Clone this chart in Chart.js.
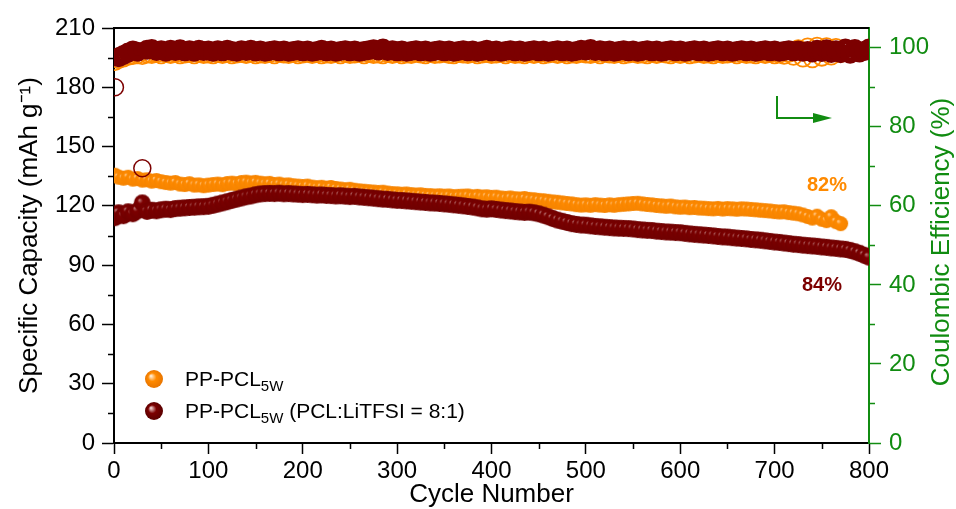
<!DOCTYPE html>
<html><head><meta charset="utf-8">
<script src="https://cdn.jsdelivr.net/npm/chart.js@4.4.1/dist/chart.umd.min.js"></script>
<style>html,body{margin:0;padding:0;background:#fff}#wrap{width:956px;height:509px;position:relative}</style>
</head><body><div id="wrap"><canvas id="c" width="956" height="509"></canvas></div>
<script>
// ---------------- data ----------------
const cycles = [
1,5,10,15,20,25,30,35,40,45, 50,55,60,65,70,75,80,85,90,95,
100,105,110,115,120,125,130,135,140,145, 150,155,160,165,170,175,180,185,190,195,
200,205,210,215,220,225,230,235,240,245, 250,255,260,265,270,275,280,285,290,295,
300,305,310,315,320,325,330,335,340,345, 350,355,360,365,370,375,380,385,390,395,
400,405,410,415,420,425,430,435,440,445, 450,455,460,465,470,475,480,485,490,495,
500,505,510,515,520,525,530,535,540,545, 550,555,560,565,570,575,580,585,590,595,
600,605,610,615,620,625,630,635,640,645, 650,655,660,665,670,675,680,685,690,695,
700,705,710,715,720,725,730,735,740,745, 750,755,760,765,770,775,780,785,790,795,
800];
// PP-PCL5W specific capacity (mAh/g), cycles 1..770
const capPCL = [
135.5,134.5,134,134.5,133.5,133.8,133,133.2,132.5,132.8,
132.2,131.8,131.5,131.8,131,130.8,131.2,130.5,130.6,130.2,
130.5,130.8,131,130.7,131.3,131.5,131.2,131.8,132,131.6,
131.9,131.5,131.2,131.4,130.8,131,130.5,130.6,130.2,130,
129.8,130,129.5,129.2,129.4,129,129.3,128.8,128.5,128.2,
128.4,127.9,127.6,127.4,127.2,127,126.8,126.9,126.5,126.2,
126.1,125.9,126,125.7,125.5,125.6,125.3,125.2,125,125.1,
124.9,125,124.7,124.8,124.9,125,124.6,124.8,124.5,124.6,
124.3,124.4,124,123.8,124,123.6,123.5,123.7,123.3,123.1,
122.8,122.6,122.3,122,121.8,121.5,121.2,121,120.6,120.4,
120.5,120.3,120.6,120.4,120.2,120.5,120.3,120.6,120.8,121,
121.2,121.3,121,120.7,120.5,120.2,120,119.8,119.9,119.5,
119.3,119.4,119.1,119.2,118.9,118.8,118.6,118.5,118.7,118.4,
118.6,118.5,118.3,118.5,118.4,118.2,118,117.8,117.6,117.4,
117.1,116.9,117,116.6,116.3,116,115.4,114.6,113.8,114.8,
113.2,112.5,114.5,112,111];
// PP-PCL5W (PCL:LiTFSI = 8:1) specific capacity, cycles 1..800
const capLiTFSI = [
114,116.5,115,117,116,117.5,121.5,117.2,117.8,117.5,
118,118.3,118.1,118.6,118.8,119,119.2,119.3,119.5,119.6,
119.8,120.3,120.9,121.5,122.1,122.8,123.4,124,124.6,125,
125.6,126,126.2,126.3,126.2,126.4,126.1,126.2,126,125.9,
125.7,125.8,125.6,125.4,125.5,125.3,125.2,125,125.1,124.9,
124.7,124.8,124.5,124.3,124.1,123.9,123.6,123.4,123.3,123,
122.8,122.7,122.5,122.3,122.1,121.9,121.7,121.5,121.4,121.2,
121,120.8,120.5,120.3,120,119.7,119.4,119,118.5,118.3,
118.5,118.2,117.9,117.6,117.4,117.1,116.9,116.7,116.8,116.5,
116,115.3,114.5,113.6,112.8,112.2,111.6,111,110.6,110.3,
110.2,109.9,109.6,109.4,109.2,109,108.8,108.7,108.6,108.5,
108.3,108,107.8,107.6,107.5,107.2,107,106.8,106.7,106.5,
106.4,106.1,105.8,105.6,105.4,105.2,105,104.8,104.5,104.3,
104.2,103.9,103.7,103.5,103.3,103,102.8,102.6,102.3,102,
101.7,101.5,101.2,100.9,100.6,100.4,100.1,99.9,99.7,99.5,
99.2,99,98.7,98.5,98.2,98,97.5,96.8,96,95,
94];
// Coulombic efficiency (%) PP-PCL5W, cycles 1..770
const cePCL = [
96.5,97,97.4,97.8,98,98.2,98,98.4,98.3,98.5,
98.2,98.5,98.3,98.6,98.2,98.4,98.5,98.2,98.6,98.3,
98.4,98.2,98.5,98.3,98.6,98.2,98.4,98.5,98.3,98.6,
98.2,98.4,98.3,98.5,98.2,98.6,98.4,98.3,98.5,98.2,
98.4,98.6,98.3,98.5,98.2,98.4,98.3,98.6,98.2,98.5,
98.3,98.4,98.6,98.2,98.5,98.3,98.4,98.2,98.6,98.3,
98.5,98.2,98.4,98.3,98.6,98.4,98.2,98.5,98.3,98.4,
98.6,98.3,98.2,98.5,98.4,98.3,98.6,98.2,98.4,98.5,
98.3,98.4,98.6,98.2,98.5,98.3,98.4,98.2,98.6,98.3,
98.5,98.2,98.4,98.6,98.3,98.5,98.2,98.4,98.3,98.6,
98.4,98.3,98.5,98.2,98.6,98.4,98.3,98.5,98.2,98.4,
98.6,98.3,98.4,98.2,98.5,98.3,98.6,98.4,98.2,98.5,
98.3,98.5,98.2,98.4,98.6,98.3,98.4,98.2,98.5,98.3,
98.4,98.6,98.2,98.5,98.3,98.4,98.2,98.6,98.3,98.5,
98.2,98.4,98.1,98.6,97.8,99.8,97.4,100.2,97.2,100.4,
97.6,100.3,97.9,100.1,98.5];
// Coulombic efficiency (%) PP-PCL5W (PCL:LiTFSI = 8:1), cycles 1..800
const ceLiTFSI = [
90,97.6,98.2,98.8,99.3,99,69.5,99.5,99.7,99.2,
99.4,99,99.5,99.2,99.6,99.1,99.4,99,99.5,99.2,
99.3,99,99.4,99.1,99.5,99.2,99,99.4,99.2,99.5,
99.1,99.3,99,99.2,99.4,99.1,99.3,99,99.2,99.4,
99.1,99.3,99,99.2,99.5,99.1,99.3,99,99.2,99.4,
99.1,99.3,99,99.2,99.4,99.6,99.3,99.8,99.2,99.4,
99.1,99.3,99,99.2,99.4,99.1,99.3,99,99.2,99.4,
99.1,99.3,99,99.2,99.4,99.1,99.3,99,99.2,99.5,
99.1,99.3,99,99.2,99.4,99.1,99.3,99,99.2,99.4,
99.1,99.3,99,99.2,99.4,99.1,99.3,99,99.2,99.5,
99.3,99.7,99.2,99.4,99.1,99.3,99,99.2,99.4,99.1,
99.3,99,99.2,99.4,99.1,99.3,99,99.2,99.4,99.1,
99.3,99,99.2,99.4,99.1,99.3,99,99.2,99.4,99.1,
99.3,99,99.2,99.4,99.1,99.3,99,99.2,99.4,99.1,
99.3,99,99.2,99.4,99.1,99.3,99,99.2,98.8,99.5,
98.9,99.6,98.7,99.4,98.6,99.8,98.5,99.7,98.8,99.2,
99.8];
const xTicks = [0,100,200,300,400,500,600,700,800];
const xMinor = [50,150,250,350,450,550,650,750];
const capTicks = [0,30,60,90,120,150,180,210];
const capMinor = [15,45,75,105,135,165,195];
const ceTicks = [0,20,40,60,80,100];
const ceMinor = [10,30,50,70,90];
const seriesNames = ['PP-PCL', 'PP-PCL'];
const seriesSub = ['5W', '5W'];
const seriesTail = ['', ' (PCL:LiTFSI = 8:1)'];
const retentionLabels = ['82%', '84%'];

// ---------------- styling ----------------
const F = "'Liberation Sans', Arial, sans-serif";
const ORANGE = '#ff8a00';
const DARKRED = '#7c0000';
const GREEN = '#118c11';

function sphere(r, base, light, dark, hl) {
  const s = Math.ceil(2 * r + 2);
  const c = document.createElement('canvas');
  c.width = s; c.height = s;
  const g = c.getContext('2d');
  const cx = s / 2, cy = s / 2;
  const grad = g.createRadialGradient(cx - r * 0.35, cy - r * 0.35, r * 0.02, cx, cy, r);
  grad.addColorStop(0, light);
  grad.addColorStop(hl, base);
  grad.addColorStop(1, dark);
  g.fillStyle = grad;
  g.beginPath(); g.arc(cx, cy, r, 0, Math.PI * 2); g.fill();
  return c;
}
const sphOrange = sphere(7.5, ORANGE, '#ffcf98', '#f58400', 0.3);
const sphRed = sphere(8.5, DARKRED, '#c08080', '#700000', 0.3);
const sphOrangeL = sphere(9, ORANGE, '#fff4e6', '#e87500', 0.45);
const sphRedL = sphere(9, DARKRED, '#f6dede', '#5a0000', 0.45);

const pts = (ys) => ys.map((v, i) => ({x: cycles[i], y: v}));
// isolated CE outliers are drawn as thin open rings; the dense run forms a thick band
const ringWidth = (thick) => (c) => (c.raw && c.raw.y < 95 ? 1.5 : thick);
const ringRadius = (r) => (c) => (c.raw && c.raw.y < 95 ? 8.5 : r);

const overlay = {
  id: 'overlay',
  afterDraw(chart) {
    const ctx = chart.ctx;
    const a = chart.chartArea;
    const sx = chart.scales.x, sy = chart.scales.y, sy1 = chart.scales.y1;
    ctx.save();
    // top frame
    ctx.strokeStyle = '#000'; ctx.lineWidth = 2;
    ctx.beginPath(); ctx.moveTo(a.left - 1, a.top); ctx.lineTo(a.right, a.top); ctx.stroke();
    // minor ticks
    ctx.lineWidth = 1.5;
    ctx.beginPath();
    xMinor.forEach(v => { const p = Math.round(sx.getPixelForValue(v)) + 0.5; ctx.moveTo(p, a.bottom); ctx.lineTo(p, a.bottom + 6); });
    capMinor.forEach(v => { const p = Math.round(sy.getPixelForValue(v)) + 0.5; ctx.moveTo(a.left - 6, p); ctx.lineTo(a.left, p); });
    ctx.stroke();
    ctx.strokeStyle = GREEN;
    ctx.beginPath();
    ceMinor.forEach(v => { const p = Math.round(sy1.getPixelForValue(v)) + 0.5; ctx.moveTo(a.right, p); ctx.lineTo(a.right + 6, p); });
    ctx.stroke();
    // right axis title
    ctx.fillStyle = GREEN;
    ctx.font = '26px ' + F;
    ctx.textAlign = 'center'; ctx.textBaseline = 'middle';
    ctx.translate(942, 242); ctx.rotate(-Math.PI / 2);
    ctx.fillText('Coulombic Efficiency (%)', 0, 0);
    ctx.restore();

    ctx.save();
    // arrow pointing to right axis
    ctx.strokeStyle = GREEN; ctx.fillStyle = GREEN; ctx.lineWidth = 2;
    ctx.beginPath(); ctx.moveTo(777, 96); ctx.lineTo(777, 118); ctx.lineTo(815, 118); ctx.stroke();
    ctx.beginPath(); ctx.moveTo(813, 113); ctx.lineTo(832, 118); ctx.lineTo(813, 123); ctx.closePath(); ctx.fill();
    // retention labels
    ctx.font = 'bold 20px ' + F;
    ctx.textAlign = 'center'; ctx.textBaseline = 'middle';
    ctx.fillStyle = ORANGE; ctx.fillText(retentionLabels[0], 827, 185);
    ctx.fillStyle = DARKRED; ctx.fillText(retentionLabels[1], 822, 285);
    // legend
    const rows = [{img: sphOrangeL, y: 379}, {img: sphRedL, y: 411}];
    ctx.textAlign = 'left'; ctx.textBaseline = 'alphabetic'; ctx.fillStyle = '#000';
    rows.forEach((r, i) => {
      ctx.drawImage(r.img, 154 - r.img.width / 2, r.y - r.img.height / 2);
      let x = 185;
      const base = r.y + 7;
      ctx.font = '21px ' + F;
      ctx.fillText(seriesNames[i], x, base);
      x += ctx.measureText(seriesNames[i]).width;
      ctx.font = '15px ' + F;
      ctx.fillText(seriesSub[i], x, base + 5);
      x += ctx.measureText(seriesSub[i]).width;
      ctx.font = '21px ' + F;
      ctx.fillText(seriesTail[i], x, base);
    });
    ctx.restore();
  }
};

new Chart(document.getElementById('c'), {
  type: 'scatter',
  data: {
    datasets: [
      {label: 'CE PP-PCL5W (PCL:LiTFSI = 8:1)', data: pts(ceLiTFSI), yAxisID: 'y1', clip: 0,
        pointStyle: 'circle', pointRadius: ringRadius(7), pointBackgroundColor: 'rgba(0,0,0,0)',
        pointBorderColor: DARKRED, pointBorderWidth: ringWidth(6)},
      {label: 'PP-PCL5W (PCL:LiTFSI = 8:1)', data: pts(capLiTFSI), yAxisID: 'y', clip: 0,
        pointStyle: sphRed, pointRadius: 8.5},
      {label: 'CE PP-PCL5W', data: pts(cePCL), yAxisID: 'y1', clip: 0,
        pointStyle: 'circle', pointRadius: 8.5, pointBackgroundColor: 'rgba(0,0,0,0)',
        pointBorderColor: ORANGE, pointBorderWidth: 1.8},
      {label: 'PP-PCL5W', data: pts(capPCL), yAxisID: 'y', clip: 0,
        pointStyle: sphOrange, pointRadius: 7.5}
    ]
  },
  options: {
    responsive: false,
    animation: false,
    devicePixelRatio: 1,
    events: [],
    layout: {padding: {top: 28, left: 0, right: 0, bottom: 0}},
    plugins: {legend: {display: false}, tooltip: {enabled: false}},
    scales: {
      x: {
        type: 'linear', min: 0, max: 800,
        afterBuildTicks(s) { s.ticks = xTicks.map(v => ({value: v})); },
        afterFit(s) { s.height = 66; },
        ticks: {font: {family: F, size: 24}, color: '#000', padding: 3, maxRotation: 0, autoSkip: false},
        grid: {drawOnChartArea: false, drawTicks: true, tickLength: 11, tickColor: '#000', tickWidth: 1.5},
        border: {display: true, color: '#000', width: 2},
        title: {display: true, text: 'Cycle Number', color: '#000', font: {family: F, size: 26, lineHeight: 1}, padding: {top: 0, bottom: 1}}
      },
      y: {
        position: 'left', min: 0, max: 210,
        afterBuildTicks(s) { s.ticks = capTicks.map(v => ({value: v})); },
        afterFit(s) { s.width = 114; },
        ticks: {font: {family: F, size: 24}, color: '#000', padding: 7, autoSkip: false},
        grid: {drawOnChartArea: false, drawTicks: true, tickLength: 12, tickColor: '#000', tickWidth: 1.5},
        border: {display: true, color: '#000', width: 2},
        title: {display: true, text: 'Specific Capacity (mAh g\u207B\u00B9)', color: '#000', font: {family: F, size: 26, lineHeight: 1}, padding: {top: 17, bottom: 0}}
      },
      y1: {
        position: 'right', min: 0, max: 105,
        afterBuildTicks(s) { s.ticks = ceTicks.map(v => ({value: v})); },
        afterFit(s) { s.width = 87; },
        ticks: {font: {family: F, size: 24}, color: GREEN, padding: 8, autoSkip: false},
        grid: {drawOnChartArea: false, drawTicks: true, tickLength: 12, tickColor: GREEN, tickWidth: 1.5},
        border: {display: true, color: GREEN, width: 2},
        title: {display: false}
      }
    }
  },
  plugins: [overlay]
});
</script>
</body></html>
